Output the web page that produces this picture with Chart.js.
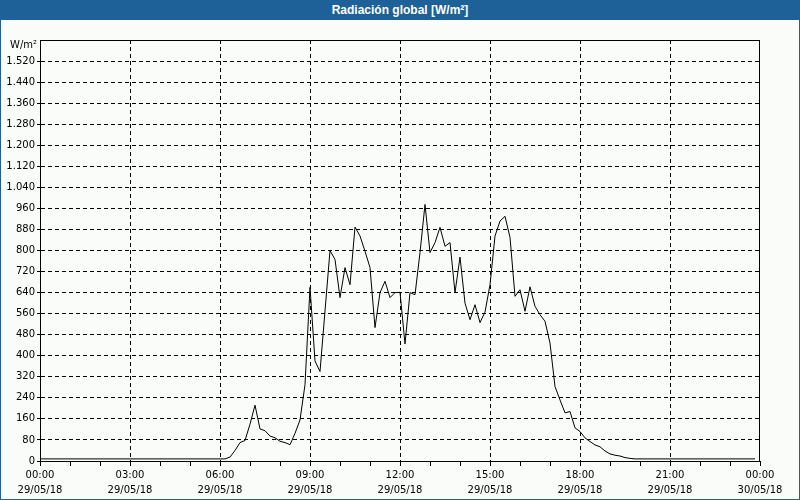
<!DOCTYPE html>
<html><head><meta charset="utf-8">
<script src="https://cdn.jsdelivr.net/npm/chart.js@4.4.1/dist/chart.umd.min.js"></script>
<style>
html,body{margin:0;padding:0;background:#f9fcf9;}
#wrap{position:relative;width:800px;height:500px;overflow:hidden;background:#f9fcf9;}
#title{position:absolute;left:0;top:0;width:800px;height:20px;background:#1d6198;color:#fff;font:bold 12px "Liberation Sans",Arial,sans-serif;text-align:center;line-height:20px;}
#c{position:absolute;left:0;top:20px;}
.b{position:absolute;background:#1d6198;}
</style></head>
<body>
<div id="wrap">
  <div id="title">Radiación global [W/m²]</div>
  <canvas id="c" width="800" height="480"></canvas>
  <div class="b" style="left:0;top:0;width:1px;height:500px"></div>
  <div class="b" style="right:0;top:0;width:1px;height:500px"></div>
  <div class="b" style="left:0;bottom:0;width:800px;height:1px"></div>
</div>
<script>
// 10-minute samples, 29/05/18 00:00 .. 23:50 (W/m²)
const stepMinutes = 10;
const radiation = [
  8,8,8,8,8,8,8,8,8,8, 8,8,8,8,8,8,8,8,8,8, 8,8,8,8,8,8,8,8,8,8, 8,8,8,8,8,8,8,8,
  15,40,70,78,140,212,122,115,95,88,75,70,62,105,156,290,
  660,380,340,570,800,766,621,735,670,889,855,797,735,507,640,683,621,640,641,445,
  640,632,792,975,792,830,888,816,830,640,775,600,537,594,526,566,
  670,855,912,930,850,626,651,569,662,588,556,531,448,283,232,183,188,126,112,88,74,61,54,
  38,27,22,19,13,10,
  8,8,8,8,8,8,8,8,8,8, 8,8,8,8,8,8,8,8,8,8, 8,8,8,8,8
];
const xTimeLabels = ['00:00','03:00','06:00','09:00','12:00','15:00','18:00','21:00','00:00'];
const xDateLabels = ['29/05/18','29/05/18','29/05/18','29/05/18','29/05/18','29/05/18','29/05/18','29/05/18','30/05/18'];
const yUnit = 'W/m²';
const yMax = 1600, yStep = 80;

const points = radiation.map((v, i) => ({x: i * stepMinutes, y: v}));
const FONT = {family: '"DejaVu Sans", Tahoma, sans-serif', size: 10, lineHeight: 1.5};

const frame = {
  id: 'frame',
  afterDraw(c) {
    const a = c.chartArea, g = c.ctx;
    g.save();
    g.strokeStyle = '#000'; g.lineWidth = 1; g.setLineDash([]);
    g.strokeRect(Math.round(a.left) + 0.5, Math.round(a.top) + 0.5,
                 Math.round(a.right - a.left) - 1, Math.round(a.bottom - a.top));
    g.fillStyle = '#000';
    g.font = '10px "DejaVu Sans", Tahoma, sans-serif';
    g.textAlign = 'right'; g.textBaseline = 'middle';
    g.fillText(yUnit, a.left - 3, a.top + 5);
    g.restore();
  }
};

new Chart(document.getElementById('c'), {
  type: 'line',
  data: {datasets: [{data: points, borderColor: '#000', borderWidth: 1, pointRadius: 0, tension: 0, fill: false}]},
  options: {
    responsive: false, animation: false, devicePixelRatio: 1,
    layout: {padding: {top: 20, right: 40, left: 0, bottom: 0}},
    plugins: {legend: {display: false}, tooltip: {enabled: false}},
    scales: {
      x: {
        type: 'linear', min: 0, max: 1440,
        afterFit: s => { s.height = 39; },
        ticks: {
          stepSize: 60, autoSkip: false, maxRotation: 0, color: '#000', font: FONT, padding: 2,
          callback: v => (v % 180 === 0) ? [xTimeLabels[v / 180], xDateLabels[v / 180]] : ''
        },
        grid: {
          color: ctx => (ctx.tick && ctx.tick.value % 180 === 0 && ctx.tick.value > 0 && ctx.tick.value < 1440) ? '#000' : 'rgba(0,0,0,0)',
          tickColor: '#000', tickLength: 5, tickBorderDash: [], lineWidth: 1
        },
        border: {display: true, color: '#000', width: 1, dash: [4, 3]}
      },
      y: {
        min: 0, max: yMax,
        afterFit: s => { s.width = 40; },
        ticks: {
          stepSize: yStep, color: '#000', font: {family: FONT.family, size: 10}, padding: 2,
          callback: v => v === yMax ? '' : v.toString().replace(/\B(?=(\d{3})+(?!\d))/g, '.')
        },
        grid: {
          color: ctx => (ctx.tick && ctx.tick.value > 0 && ctx.tick.value < yMax) ? '#000' : 'rgba(0,0,0,0)',
          tickColor: ctx => (ctx.tick && ctx.tick.value < yMax) ? '#000' : 'rgba(0,0,0,0)',
          tickLength: 3, tickBorderDash: [], lineWidth: 1
        },
        border: {display: true, color: '#000', width: 1, dash: [4, 3]}
      }
    }
  },
  plugins: [frame]
});
</script>
</body></html>
